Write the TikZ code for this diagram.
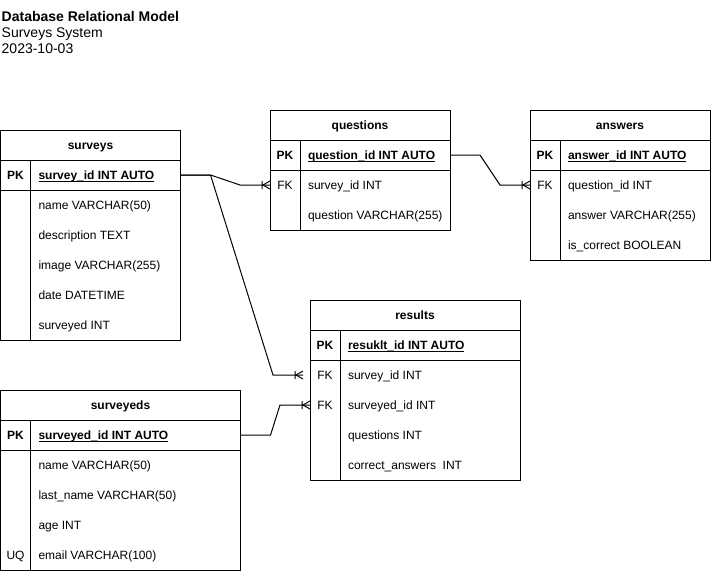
\documentclass[tikz,border=0pt]{standalone}
\usepackage{fontspec}
\setmainfont{Liberation Sans}
\usetikzlibrary{calc}

\newcommand{\tw}{\fontsize{12pt}{14pt}\selectfont}
\newcommand{\fr}{\fontsize{14pt}{16pt}\selectfont}

\tikzset{
  tablebox/.style={draw, line width=1pt, rectangle, inner sep=0pt, outer sep=0pt},
  rule/.style={line width=1pt},
  conn/.style={line width=1pt},
  cell/.style={inner sep=0pt, outer sep=0pt, text height=8.6pt, text depth=0pt, font=\tw},
  tabletitle/.style={cell, font=\tw\bfseries},
  keycell/.style={cell},
  pkkey/.style={cell, font=\tw\bfseries},
  field/.style={cell, anchor=west},
  pkfield/.style={field, font=\tw\bfseries},
  caption/.style={inner sep=0pt, anchor=base west, font=\fr},
}

% table frame: name, left, top, width, height, title
\newcommand{\ertable}[6]{%
  \node[tablebox, minimum width=#4pt, minimum height=#5pt, anchor=north west] (#1) at (#2,#3) {};
  \draw[rule] ($(#1.north west)+(0,30)$) -- ($(#1.north east)+(0,30)$);
  \draw[rule] ($(#1.north west)+(0,60)$) -- ($(#1.north east)+(0,60)$);
  \draw[rule] ($(#1.north west)+(30,30)$) -- ($(#1.south west)+(30,0)$);
  \node[tabletitle] (#1-title) at ($(#1.north)+(0,15)$) {#6};
}
% primary key row: table, node name, text
\newcommand{\erpk}[3]{%
  \node[pkkey] (#2-key) at ($(#1.north west)+(15,45)$) {PK};
  \node[pkfield] (#2) at ($(#1.north west)+(38,45)$) {#3};
  \draw[rule] ($(#2.west)+(0,6)$) -- ($(#2.east)+(0,6)$);
}
% ordinary row: table, node name, row number below the key row, text
\newcommand{\erfield}[4]{%
  \node[field] (#2) at ($(#1.north west)+(38,{45+30*#3})$) {#4};
}
% key label of an ordinary row: table, node name, row number, label
\newcommand{\erkey}[4]{%
  \node[keycell] (#2) at ($(#1.north west)+(15,{45+30*#3})$) {#4};
}
% one-to-many end mark at a named point, line entering from the left
\newcommand{\crowfoot}[1]{%
  \draw[conn] ($(#1)+(-7,0)$) -- ($(#1)+(0,-4)$)
              ($(#1)+(-7,0)$) -- ($(#1)+(0,4)$)
              ($(#1)+(-8,-4)$) -- ($(#1)+(-8,4)$);
}

\begin{document}
\begin{tikzpicture}[x=1pt, y=-1pt]
  \fill[white] (0,0) rectangle (711,571);
  \useasboundingbox (0,0) rectangle (711,571);

  % caption
  \node[caption, font=\fr\bfseries] (cap-title) at (1.5,21.5) {Database Relational Model};
  \node[caption] (cap-system) at (1.5,37.5) {Surveys System};
  \node[caption] (cap-date) at (1.5,53.5) {2023-10-03};

  % surveys
  \ertable{surveys}{0.5}{130}{180}{210}{surveys}
  \erpk{surveys}{surveys-pk}{survey\_id INT AUTO}
  \erfield{surveys}{surveys-name}{1}{name VARCHAR(50)}
  \erfield{surveys}{surveys-desc}{2}{description TEXT}
  \erfield{surveys}{surveys-image}{3}{image VARCHAR(255)}
  \erfield{surveys}{surveys-date}{4}{date DATETIME}
  \erfield{surveys}{surveys-surveyed}{5}{surveyed INT}

  % questions
  \ertable{questions}{270}{110}{180}{120}{questions}
  \erpk{questions}{questions-pk}{question\_id INT AUTO}
  \erkey{questions}{questions-sid-key}{1}{FK}
  \erfield{questions}{questions-sid}{1}{survey\_id INT}
  \erfield{questions}{questions-text}{2}{question VARCHAR(255)}

  % answers
  \ertable{answers}{530}{110}{180}{150}{answers}
  \erpk{answers}{answers-pk}{answer\_id INT AUTO}
  \erkey{answers}{answers-qid-key}{1}{FK}
  \erfield{answers}{answers-qid}{1}{question\_id INT}
  \erfield{answers}{answers-text}{2}{answer VARCHAR(255)}
  \erfield{answers}{answers-correct}{3}{is\_correct BOOLEAN}

  % results
  \ertable{results}{310}{300}{210}{180}{results}
  \erpk{results}{results-pk}{resuklt\_id INT AUTO}
  \erkey{results}{results-sid-key}{1}{FK}
  \erfield{results}{results-sid}{1}{survey\_id INT}
  \erkey{results}{results-svd-key}{2}{FK}
  \erfield{results}{results-svd}{2}{surveyed\_id INT}
  \erfield{results}{results-questions}{3}{questions INT}
  \erfield{results}{results-correct}{4}{correct\_answers~~INT}

  % surveyeds
  \ertable{surveyeds}{0.5}{390}{240}{180}{surveyeds}
  \erpk{surveyeds}{surveyeds-pk}{surveyed\_id INT AUTO}
  \erfield{surveyeds}{surveyeds-name}{1}{name VARCHAR(50)}
  \erfield{surveyeds}{surveyeds-last}{2}{last\_name VARCHAR(50)}
  \erfield{surveyeds}{surveyeds-age}{3}{age INT}
  \erkey{surveyeds}{surveyeds-email-key}{4}{UQ}
  \erfield{surveyeds}{surveyeds-email}{4}{email VARCHAR(100)}

  % relationship end points
  \coordinate (q-in) at (questions-sid -| questions.west);
  \coordinate (a-in) at (answers-qid -| answers.west);
  \coordinate (r-sid-in) at ($(results-sid -| results.west)+(-7,0)$);
  \coordinate (r-svd-in) at (results-svd -| results.west);

  % surveys -> questions
  \draw[conn] (surveys-pk -| surveys.east) -- ++(30,0) -- ($(q-in)+(-30,0)$) -- (q-in);
  \crowfoot{q-in}
  % surveys -> results
  \draw[conn] (surveys-pk -| surveys.east) -- ++(30,0) -- ($(r-sid-in)+(-30,0)$) -- (r-sid-in);
  \crowfoot{r-sid-in}
  % questions -> answers
  \draw[conn] (questions-pk -| questions.east) -- ++(30,0) -- ($(a-in)+(-30,0)$) -- (a-in);
  \crowfoot{a-in}
  % surveyeds -> results
  \draw[conn] (surveyeds-pk -| surveyeds.east) -- ++(30,0) -- ($(r-svd-in)+(-30,0)$) -- (r-svd-in);
  \crowfoot{r-svd-in}
\end{tikzpicture}
\end{document}
